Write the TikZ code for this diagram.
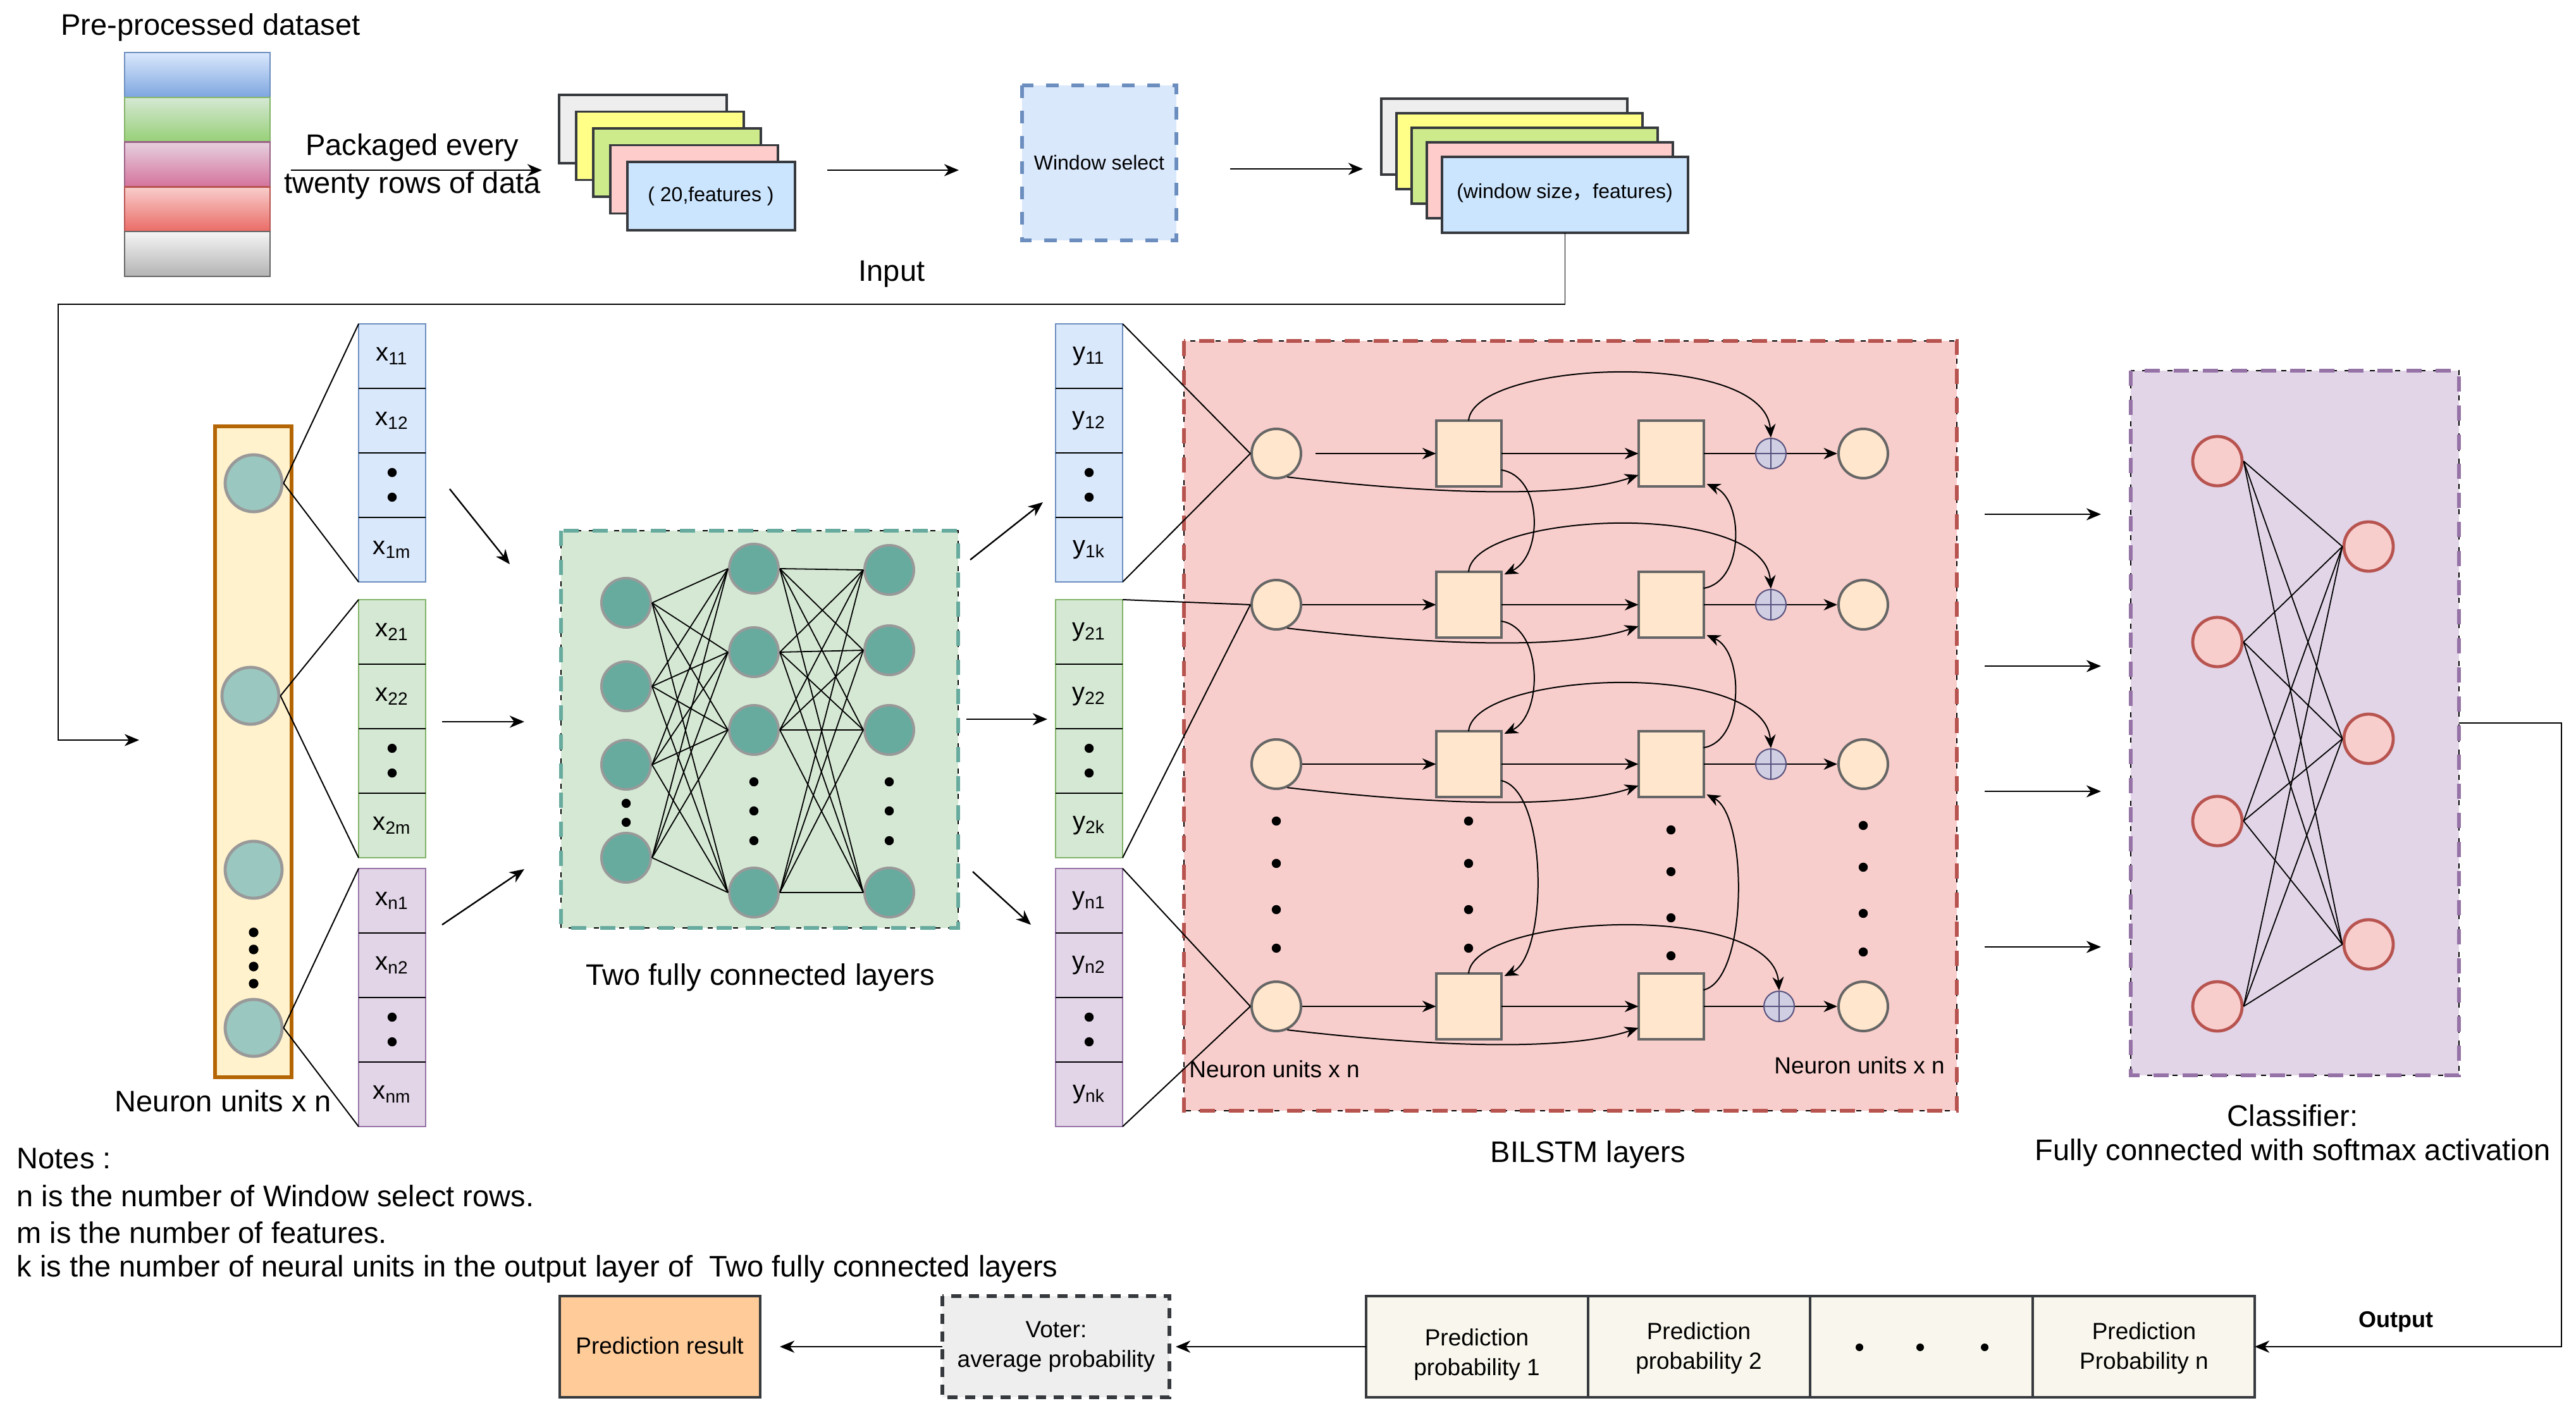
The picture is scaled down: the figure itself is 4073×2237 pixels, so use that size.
\documentclass[tikz,border=0pt]{standalone}
\usepackage{fontspec}
\setmainfont{Liberation Sans}
\newfontfamily\cjkfont{Noto Sans CJK SC}
\usetikzlibrary{arrows.meta,calc}
\newcommand\px{0.25pt}
\newcommand\FMain{\fontsize{11.75pt}{14pt}\selectfont}
\newcommand\FSmall{\fontsize{8pt}{10pt}\selectfont}
\newcommand\FBot{\fontsize{9.25pt}{11.75pt}\selectfont}
\newcommand\FCell{\fontsize{10pt}{12pt}\selectfont}
\newcommand\FNeur{\fontsize{9.25pt}{11pt}\selectfont}
\definecolor{dsBlueT}{HTML}{DAE8FC}\definecolor{dsBlueB}{HTML}{7EA6E0}\definecolor{dsBlueS}{HTML}{6C8EBF}
\definecolor{dsGreenT}{HTML}{D5E8D4}\definecolor{dsGreenB}{HTML}{97D077}\definecolor{dsGreenS}{HTML}{82B366}
\definecolor{dsPurpT}{HTML}{E6D0DE}\definecolor{dsPurpB}{HTML}{D5739D}\definecolor{dsPurpS}{HTML}{996185}
\definecolor{dsRedT}{HTML}{F8CECC}\definecolor{dsRedB}{HTML}{EA6B66}\definecolor{dsRedS}{HTML}{B85450}
\definecolor{dsGreyT}{HTML}{F5F5F5}\definecolor{dsGreyB}{HTML}{B3B3B3}\definecolor{dsGreyS}{HTML}{666666}
\definecolor{cardS}{HTML}{36393D}
\definecolor{cGrey}{HTML}{EEEEEE}\definecolor{cYel}{HTML}{FFFF88}\definecolor{cLime}{HTML}{CDEB8B}
\definecolor{cPink}{HTML}{FFCCCC}\definecolor{cSky}{HTML}{CCE5FF}
\definecolor{blueFill}{HTML}{DAE8FC}\definecolor{blueLine}{HTML}{6C8EBF}
\definecolor{greenFill}{HTML}{D5E8D4}\definecolor{greenLine}{HTML}{82B366}
\definecolor{purpFill}{HTML}{E1D5E7}\definecolor{purpLine}{HTML}{9673A6}
\definecolor{redFill}{HTML}{F8CECC}\definecolor{redLine}{HTML}{B85450}
\definecolor{tealLine}{HTML}{67AB9F}\definecolor{tealNode}{HTML}{67AB9F}\definecolor{tealLight}{HTML}{9AC7BF}
\definecolor{nodeGrey}{HTML}{999999}
\definecolor{orangeFill}{HTML}{FFF2CC}\definecolor{orangeLine}{HTML}{B46504}
\definecolor{peach}{HTML}{FFE6CC}\definecolor{darkGrey}{HTML}{666666}
\definecolor{lavFill}{HTML}{D0CEE2}\definecolor{lavLine}{HTML}{56517E}
\definecolor{resFill}{HTML}{FFCC99}\definecolor{tabFill}{HTML}{F9F7ED}
% feature / output group of four cells
\newcommand\featgrp[8]{%
  \node[grp, fill=#4, draw=#5] (#1) at (#2,#3) {};
  \foreach \k in {1,2,3}{\draw[line width=0.6pt] (#2,#3+102*\k) -- (#2+106,#3+102*\k);}
  \node[ctxt] (#1a) at (#2+53,#3+51) {#6};
  \node[ctxt] (#1b) at (#2+53,#3+153) {#7};
  \node[ctxt] (#1d) at (#2+53,#3+357) {#8};
  \fill (#2+53,#3+235) circle (1.8pt);
  \fill (#2+53,#3+274) circle (1.8pt);
}
\begin{document}
\begin{tikzpicture}[x=0.25pt,y=-0.25pt,
  ln/.style={line width=0.5pt},
  arr/.style={line width=0.6pt,-{Stealth[length=5.8pt,width=4.8pt,inset=1.8pt]}},
  sarr/.style={line width=0.5pt,-{Stealth[length=5.4pt,width=4.5pt,inset=1.7pt]}},
  txt/.style={inner sep=0pt,font=\FMain},
  stxt/.style={inner sep=0pt,font=\FSmall},
  btxt/.style={inner sep=0pt,font=\FBot,align=center},
  ctxt/.style={inner sep=0pt,font=\FCell},
  box/.style={rectangle,inner sep=0pt,outer sep=0pt},
  card1/.style={box,draw=cardS,line width=0.8pt,minimum width=265*\px,minimum height=108*\px},
  card2/.style={box,draw=cardS,line width=0.8pt,minimum width=389*\px,minimum height=120*\px},
  grp/.style={box,anchor=north west,minimum width=106*\px,minimum height=408*\px,line width=0.6pt},
  colcirc/.style={circle,inner sep=0pt,minimum size=90*\px,fill=tealLight,draw=nodeGrey,line width=1.2pt},
  fcn/.style={circle,inner sep=0pt,minimum size=78*\px,fill=tealNode,draw=nodeGrey,line width=1pt},
  lcirc/.style={circle,inner sep=0pt,minimum size=78*\px,fill=peach,draw=darkGrey,line width=1pt},
  lsq/.style={box,minimum width=103*\px,minimum height=104*\px,fill=peach,draw=darkGrey,line width=1pt},
  plusc/.style={circle,inner sep=0pt,minimum size=48*\px,fill=lavFill,draw=lavLine,line width=0.5pt,
    path picture={\draw[lavLine,line width=0.5pt] (path picture bounding box.north) -- (path picture bounding box.south)
      (path picture bounding box.west) -- (path picture bounding box.east);}},
  clsn/.style={circle,inner sep=0pt,minimum size=78*\px,fill=redFill,draw=redLine,line width=1.2pt},
  dotline/.style={black,line width=0.6pt,dash pattern=on 2pt off 3pt},
  thickdash/.style={line width=1.6pt,dash pattern=on 6pt off 5.5pt}
]
\useasboundingbox (0,0) rectangle (4073,2237);
\fill[white] (0,0) rectangle (4073,2237);

% ---------------- top row ----------------
\node[txt] (title) at (333,43) {Pre-processed dataset};
\foreach \i/\cT/\cB/\cS in {0/dsBlueT/dsBlueB/dsBlueS,1/dsGreenT/dsGreenB/dsGreenS,2/dsPurpT/dsPurpB/dsPurpS,3/dsRedT/dsRedB/dsRedS,4/dsGreyT/dsGreyB/dsGreyS}
  \node[box,minimum width=230*\px,minimum height=70.8*\px,top color=\cT,bottom color=\cB,draw=\cS,line width=0.6pt] (ds\i) at (312,118.4+70.8*\i) {};

\coordinate (pk1) at (460,269);
\coordinate (pk2) at (857,269);
\draw[arr] (pk1) -- (pk2);
\node[txt] (pka) at (652,233) {Packaged every};
\node[txt] (pkb) at (652,293) {twenty rows of data};

\foreach \i/\cc in {0/cGrey,1/cYel,2/cLime,3/cPink,4/cSky}
  \node[card1,fill=\cc] (pa\i) at (1016.5+27*\i,204+26.5*\i) {};
\node[stxt] (pat) at (1124,310) {( 20,features )};

\coordinate (w1) at (1308,269);
\coordinate (w2) at (1516,269);
\draw[arr] (w1) -- (w2);
\node[txt] (inp) at (1410,433) {Input};

\node[box,fill=blueFill,minimum width=244*\px,minimum height=245*\px,font=\FSmall] (ws) at (1738,257.5) {Window select};
\draw[blueLine,line width=1.5pt,dash pattern=on 5pt off 5pt] (ws.north west) rectangle (ws.south east);

\coordinate (w3) at (1945,267);
\coordinate (w4) at (2155,267);
\draw[arr] (w3) -- (w4);

\foreach \i/\cc in {0/cGrey,1/cYel,2/cLime,3/cPink,4/cSky}
  \node[card2,fill=\cc] (pb\i) at (2378.5+24*\i,216+23*\i) {};
\node[stxt] (pbt) at (2474,305) {(window size{\cjkfont ，}features)};

% feed line
\coordinate (feedEnd) at (220,1170);
\draw[arr,line width=0.45pt] (pb4.south) |- (92,481) -- (92,1170) -- (feedEnd);

% ---------------- neuron column ----------------
\node[box,fill=orangeFill,draw=orangeLine,line width=1.3pt,minimum width=121*\px,minimum height=1029*\px] (col) at (400.5,1188.5) {};
\node[colcirc] (cc1) at (401,764) {};
\node[colcirc] (cc2) at (396,1100) {};
\node[colcirc] (cc3) at (401,1375) {};
\node[colcirc] (cc4) at (401,1625) {};
\foreach \yy in {1474,1501,1528,1555} \fill (401,\yy) circle (1.9pt);
\node[txt] (colLab) at (353,1741) {Neuron units x n};

\featgrp{xg1}{567}{512}{blueFill}{blueLine}{x\textsubscript{11}}{x\textsubscript{12}}{x\textsubscript{1m}}
\featgrp{xg2}{567}{948}{greenFill}{greenLine}{x\textsubscript{21}}{x\textsubscript{22}}{x\textsubscript{2m}}
\featgrp{xg3}{567}{1373}{purpFill}{purpLine}{x\textsubscript{n1}}{x\textsubscript{n2}}{x\textsubscript{nm}}

\draw[ln] (cc1.east) -- (xg1.north west);
\draw[ln] (cc1.east) -- (xg1.south west);
\draw[ln] (cc2.east) -- (xg2.north west);
\draw[ln] (cc2.east) -- (xg2.south west);
\draw[ln] (cc4.east) -- (xg3.north west);
\draw[ln] (cc4.east) -- (xg3.south west);

\coordinate (xa1) at (711,773);  \coordinate (xb1) at (806,892);
\coordinate (xa2) at (699,1141); \coordinate (xb2) at (829,1141);
\coordinate (xa3) at (699,1462); \coordinate (xb3) at (829,1374);
\foreach \k in {1,2,3} \draw[arr] (xa\k) -- (xb\k);

% ---------------- fully connected ----------------
\node[box,fill=greenFill,minimum width=628*\px,minimum height=628*\px] (fcb) at (1201,1153) {};
\draw[dotline] (fcb.north west) rectangle (fcb.south east);
\draw[tealLine,thickdash] (fcb.north west) rectangle (fcb.south east);
\node[txt] (fcLab) at (1202,1545) {Two fully connected layers};

\foreach \i/\yy in {1/953,2/1085,3/1209,4/1356} \node[fcn] (fa\i) at (990,\yy) {};
\foreach \i/\yy in {1/899,2/1031,3/1154,4/1411} \node[fcn] (fb\i) at (1192,\yy) {};
\foreach \i/\yy in {1/901,2/1028,3/1154,4/1411} \node[fcn] (fc\i) at (1406,\yy) {};
\foreach \i in {1,...,4}{\foreach \j in {1,...,4}{
  \draw[line width=0.45pt] (fa\i.east) -- (fb\j.west);
  \draw[line width=0.45pt] (fb\i.east) -- (fc\j.west);}}
\fill (990,1270) circle (1.8pt); \fill (990,1300) circle (1.8pt);
\foreach \yy in {1236,1282,1329}{\fill (1192,\yy) circle (1.8pt); \fill (1406,\yy) circle (1.8pt);}

\coordinate (ya1) at (1534,885);  \coordinate (yb1) at (1649,794);
\coordinate (ya2) at (1528,1137); \coordinate (yb2) at (1656,1137);
\coordinate (ya3) at (1538,1378); \coordinate (yb3) at (1630,1462);
\foreach \k in {1,2,3} \draw[arr] (ya\k) -- (yb\k);

\featgrp{yg1}{1669}{512}{blueFill}{blueLine}{y\textsubscript{11}}{y\textsubscript{12}}{y\textsubscript{1k}}
\featgrp{yg2}{1669}{948}{greenFill}{greenLine}{y\textsubscript{21}}{y\textsubscript{22}}{y\textsubscript{2k}}
\featgrp{yg3}{1669}{1373}{purpFill}{purpLine}{y\textsubscript{n1}}{y\textsubscript{n2}}{y\textsubscript{nk}}

% ---------------- BiLSTM ----------------
\node[box,fill=redFill,minimum width=1222*\px,minimum height=1217*\px] (bil) at (2483,1147.5) {};
\draw[dotline] (bil.north west) rectangle (bil.south east);
\draw[redLine,thickdash] (bil.north west) rectangle (bil.south east);
\node[txt] (bilLab) at (2511,1825) {BILSTM layers};
\node[inner sep=0pt,font=\FNeur] (nuL) at (2015,1690) {Neuron units x n};
\node[inner sep=0pt,font=\FNeur] (nuR) at (2940,1684) {Neuron units x n};

\foreach \r/\yy/\pp in {1/717/2800,2/956/2800,3/1208/2800,4/1591/2813}{
  \node[lcirc] (li\r) at (2018,\yy) {};
  \node[lsq] (sa\r) at (2322,\yy) {};
  \node[lsq] (sb\r) at (2642,\yy) {};
  \node[plusc] (pl\r) at (\pp,\yy) {};
  \node[lcirc] (lo\r) at (2946,\yy) {};
  \draw[sarr] (sa\r.east) -- (sb\r.west);
  \draw[ln] (sb\r.east) -- (pl\r.west);
  \draw[sarr] (pl\r.east) -- (lo\r.west);
  \draw[sarr] (li\r.-65) .. controls (2300,\yy+68) and (2490,\yy+68) .. ($(sb\r.west)+(0,34)$);
  \draw[sarr] (sa\r.north) .. controls (2330,\yy-147) and (\pp-10,\yy-167) .. (pl\r.north);
}
\draw[sarr] ($(li1.east)+(21,0)$) -- (sa1.west);
\foreach \r in {2,3,4} \draw[sarr] (li\r.east) -- (sa\r.west);

% down curves (first square column)
\draw[sarr] ($(sa1.east)+(0,26)$) .. controls (2440,753) and (2440,879) .. ($(sa2.north east)+(5,4)$);
\draw[sarr] ($(sa2.east)+(0,26)$) .. controls (2440,992) and (2440,1131) .. ($(sa3.north east)+(5,4)$);
\draw[sarr] ($(sa3.east)+(0,26)$) .. controls (2448,1250) and (2448,1510) .. ($(sa4.north east)+(5,4)$);
% up curves (second square column)
\draw[sarr] ($(sb2.east)+(0,-26)$) .. controls (2758,920) and (2758,790) .. ($(sb1.south east)+(5,-4)$);
\draw[sarr] ($(sb3.east)+(0,-26)$) .. controls (2758,1172) and (2758,1030) .. ($(sb2.south east)+(5,-4)$);
\draw[sarr] ($(sb4.east)+(0,-26)$) .. controls (2764,1549) and (2764,1290) .. ($(sb3.south east)+(5,-4)$);

\foreach \yy in {1298,1365,1438,1499}{\fill (2018,\yy) circle (1.8pt); \fill (2322,\yy) circle (1.8pt);}
\foreach \yy in {1312,1378,1451,1511} \fill (2642,\yy) circle (1.8pt);
\foreach \yy in {1305,1371,1444,1505} \fill (2946,\yy) circle (1.8pt);

% group lines to BiLSTM inputs
\draw[ln] (yg1.north east) -- (li1.west);
\draw[ln] (yg1.south east) -- (li1.west);
\draw[ln] (yg2.north east) -- (li2.west);
\draw[ln] (yg2.south east) -- (li2.west);
\draw[ln] (yg3.north east) -- (li4.west);
\draw[ln] (yg3.south east) -- (li4.west);

% ---------------- classifier ----------------
\foreach \k/\yy in {1/813,2/1053,3/1251,4/1497}{
  \coordinate (ca\k) at (3138,\yy); \coordinate (cb\k) at (3322,\yy);
  \draw[arr] (ca\k) -- (cb\k);}
\node[box,fill=purpFill,minimum width=519*\px,minimum height=1114*\px] (clb) at (3628.5,1143) {};
\draw[dotline] (clb.north west) rectangle (clb.south east);
\draw[purpLine,thickdash] (clb.north west) rectangle (clb.south east);
\foreach \i/\yy in {1/729,2/1015,3/1298,4/1591} \node[clsn] (cl\i) at (3506,\yy) {};
\foreach \j/\yy in {1/864,2/1168,3/1493} \node[clsn] (cr\j) at (3745,\yy) {};
\foreach \i in {1,...,4}{\foreach \j in {1,2,3}{\draw[line width=0.45pt] (cl\i.east) -- (cr\j.west);}}
\node[txt] (clsA) at (3625,1764) {Classifier:};
\node[txt] (clsB) at (3625,1822) {Fully connected with softmax activation};

% ---------------- notes ----------------
\node[txt,anchor=west] (note0) at (26,1832) {Notes :};
\node[txt,anchor=west] (note1) at (26,1891) {n is the number of Window select rows.};
\node[txt,anchor=west] (note2) at (26,1949) {m is the number of features.};
\node[txt,anchor=west] (note3) at (26,2006) {k is the number of neural units in the output layer of\ \ Two fully connected layers};

% ---------------- bottom ----------------
\node[box,fill=resFill,draw=cardS,line width=0.9pt,minimum width=317*\px,minimum height=160*\px] (res) at (1043.5,2129) {};
\node[btxt] (resT) at (1043,2127) {Prediction result};
\node[box,fill=cGrey,minimum width=359*\px,minimum height=160*\px] (vot) at (1669.5,2129) {};
\draw[cardS,line width=1.5pt,dash pattern=on 4pt off 3pt] (vot.north west) rectangle (vot.south east);
\node[btxt] (votT) at (1670,2129) {Voter:\\average probability};
\foreach \k/\xx in {1/2335.5,2/2686.5,3/3038,4/3389.5}
  \node[box,fill=tabFill,draw=cardS,line width=0.9pt,minimum width=351*\px,minimum height=160*\px] (tc\k) at (\xx,2129) {};
\node[btxt] (tc1T) at (2335,2141) {Prediction\\probability 1};
\node[btxt] (tc2T) at (2686,2131) {Prediction\\probability 2};
\node[btxt] (tc4T) at (3390,2131) {Prediction\\Probability n};
\foreach \xx in {2940,3036,3138} \fill (\xx,2130) circle (1.5pt);

\draw[arr] (tc1.west) -- ($(vot.east)+(10,0)$);
\draw[arr] (vot.west) -- ($(res.east)+(31,0)$);
\draw[arr] (clb.east) -- (4050,1143) |- (tc4.east);
\node[inner sep=0pt,font=\fontsize{9pt}{11pt}\selectfont\bfseries] (outLab) at (3788,2090) {Output};
\end{tikzpicture}
\end{document}
